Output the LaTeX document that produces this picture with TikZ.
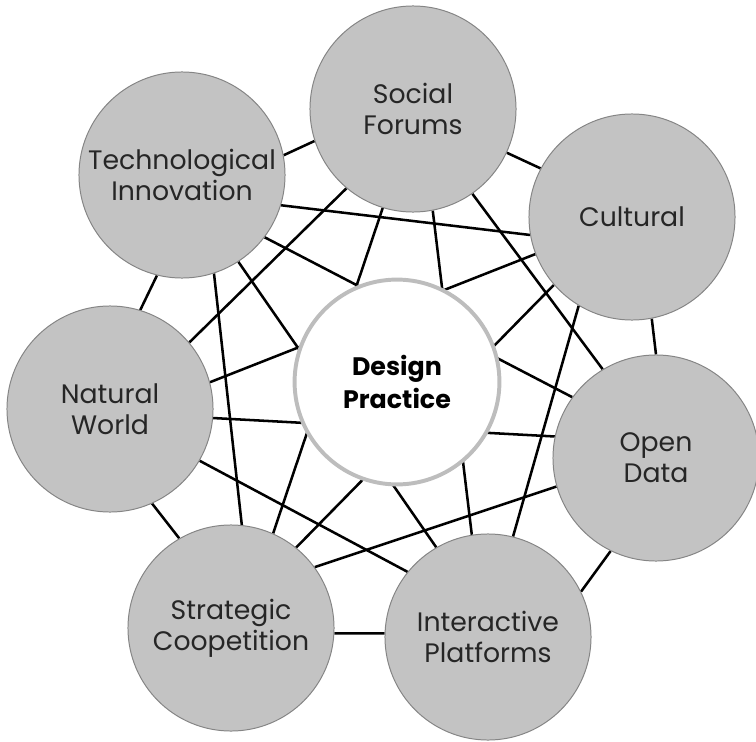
\documentclass[tikz,border=0pt]{standalone}
\usepackage{fontspec}
\setmainfont{Poppins}
\usetikzlibrary{backgrounds}
\definecolor{discfill}{gray}{0.765}
\definecolor{discedge}{gray}{0.52}
\definecolor{ringedge}{gray}{0.74}
\definecolor{labelgray}{gray}{0.15}
\begin{document}
\begin{tikzpicture}[x=0.025cm, y=-0.025cm,
  disc/.style={circle, draw=discedge, line width=0.7pt, fill=discfill,
    minimum size=5.15cm, inner sep=0pt, align=center,
    font=\fontsize{19}{22}\selectfont, text=labelgray},
  hubdisc/.style={circle, draw=ringedge, line width=2.8pt, fill=white,
    minimum size=5.12cm, inner sep=0pt, align=center,
    font=\fontsize{18}{23}\selectfont\bfseries, text=black},
  link/.style={line width=1.8pt, draw=black}]
\useasboundingbox (0,0) rectangle (756,742);

% the seven themes and the practice at their centre
\node[disc]    (soc)  at (413,109) {Social\\Forums};
\node[disc]    (tech) at (182,175) {Technological\\Innovation};
\node[disc]    (cult) at (632,217) {Cultural};
\node[disc]    (nat)  at (110,409) {Natural\\World};
\node[disc]    (open) at (656,458) {Open\\Data};
\node[disc]    (strat) at (231,628) {Strategic\\Coopetition};
\node[disc]    (inter) at (488,637) {Interactive\\Platforms};
\node[hubdisc] (core) at (397,382) {Design\\Practice};

\begin{scope}[on background layer]
  % neighbouring themes
  \draw[link] (tech.11)   -- (soc.198);
  \draw[link] (soc.-25)   -- (cult.152);
  \draw[link] (cult.-79)  -- (open.90);
  \draw[link] (open.-116) -- (inter.26);
  \draw[link] (strat.-3)  -- (inter.178);
  \draw[link] (nat.-66)   -- (strat.120);
  \draw[link] (nat.73)    -- (tech.-104);
  % themes two steps apart
  \draw[link] (tech.-17)  -- (cult.190);
  \draw[link] (soc.-55)   -- (open.121);
  \draw[link] (cult.-121) -- (inter.76);
  \draw[link] (open.196)  -- (strat.36);
  \draw[link] (inter.141) -- (nat.-30);
  \draw[link] (strat.84)  -- (tech.-72);
  \draw[link] (nat.40)    -- (soc.-130);
  % themes three steps apart, crossing behind the centre
  \draw[link] (tech.-37)  -- (open.144);
  \draw[link] (soc.-107)  -- (strat.66);
  \draw[link] (soc.-79)   -- (inter.99);
  \draw[link] (cult.-139) -- (strat.51);
  \draw[link] (open.168)  -- (nat.-5);
  \draw[link] (inter.120) -- (tech.-57);
  \draw[link] (nat.15)    -- (cult.201);
\end{scope}
\end{tikzpicture}
\end{document}
